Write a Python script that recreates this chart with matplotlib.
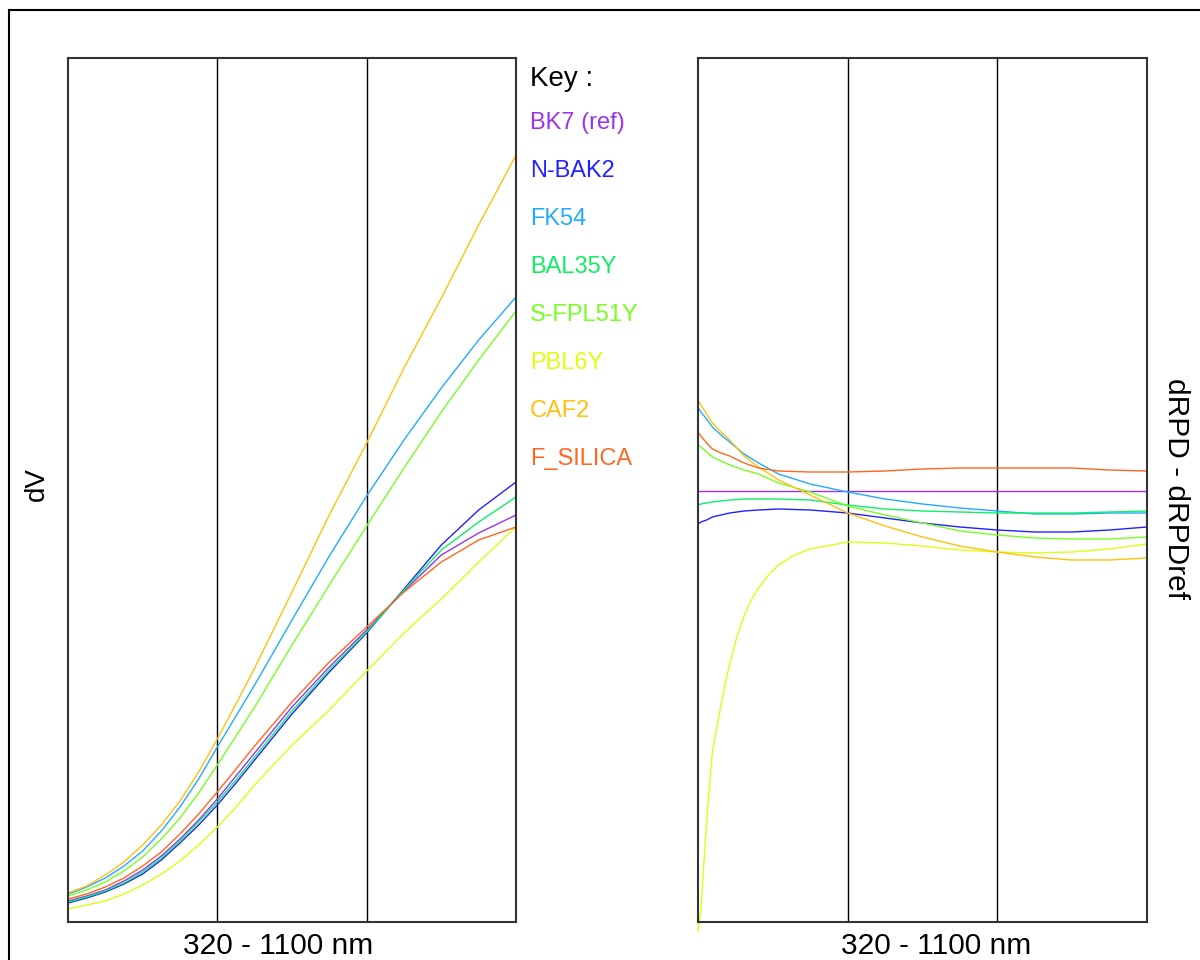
import matplotlib
matplotlib.use("Agg")
import matplotlib.pyplot as plt
from matplotlib.lines import Line2D

plt.rcParams['font.family'] = ['Liberation Sans', 'DejaVu Sans']

# ---------------- data ----------------
glasses = ["BK7 (ref)", "N-BAK2", "FK54", "BAL35Y", "S-FPL51Y", "PBL6Y", "CAF2", "F_SILICA"]
colors = ["#9933EE", "#2222FF", "#22AAFF", "#11EE66", "#77FF22", "#DDFF11", "#FFC010", "#FF6622"]

# left panel: dV versus wavelength (arbitrary units)
wl_left = [320, 352.5, 385, 417.5, 450, 482.5, 515, 547.5, 580, 612.5, 645,
           710, 775, 840, 905, 970, 1035, 1100]
dv_bk7     = [21, 26, 32, 41, 52, 66, 83, 102, 123, 146, 169, 215, 255, 292, 331, 367, 389, 407]
dv_nbak2   = [19, 24, 30, 38, 48, 62, 79, 97, 117, 139, 162, 208, 250, 289, 333, 377, 412, 440]
dv_fk54    = [28, 35, 44, 56, 71, 91, 115, 143, 175, 206, 237, 302, 366, 426, 482, 534, 582, 625]
dv_bal35y  = [20, 25, 31, 39, 50, 64, 81, 100, 120, 142, 165, 211, 252, 290, 332, 372, 400, 425]
dv_sfpl51y = [26, 32, 40, 51, 65, 83, 104, 129, 157, 186, 215, 277, 337, 396, 454, 510, 562, 611]
dv_pbl6y   = [13, 17, 21, 28, 37, 48, 61, 77, 95, 115, 137, 177, 212, 251, 289, 323, 360, 395]
dv_caf2    = [29, 36, 47, 60, 77, 97, 121, 150, 183, 218, 254, 330, 407, 479, 554, 624, 697, 767]
dv_fsilica = [23, 28, 35, 44, 56, 70, 88, 108, 130, 153, 176, 220, 260, 295, 330, 360, 382, 395]

# right panel: dRPD - dRPDref versus wavelength (arbitrary units)
wl_right = [320, 325, 335, 345, 360, 375, 400, 425, 460, 515, 580, 645, 710, 775, 840, 905, 970, 1035, 1100]
rpd_bk7     = [0] * 19
rpd_nbak2   = [-33, -31, -29, -26, -24, -22, -20, -19, -18, -19, -22, -27, -32, -36, -39, -41, -41, -39, -36]
rpd_fk54    = [84, 79, 72, 64, 56, 49, 37, 28, 17, 7, -1, -8, -13, -17, -20, -23, -23, -22, -22]
rpd_bal35y  = [-14, -13, -12, -11, -10, -9, -8, -8, -8, -9, -14, -18, -20, -21, -22, -22, -22, -21, -20]
rpd_sfpl51y = [46, 44, 39, 34, 30, 26, 21, 17, 8, -1, -15, -24, -32, -40, -44, -47, -48, -48, -46]
rpd_caf2    = [91, 86, 77, 68, 59, 51, 35, 24, 11, -4, -22, -35, -46, -55, -61, -66, -69, -69, -67]
rpd_fsilica = [59, 55, 48, 42, 38, 35, 28, 23, 20, 19, 19, 20, 22, 23, 23, 23, 23, 21, 20]

# PBL6Y rises steeply near the blue end, so it is read at more wavelengths
wl_right_pbl6y = [320, 325, 330, 335, 340, 345, 352.5, 360, 367.5, 375, 387.5, 400, 412.5, 425,
                  442.5, 460, 487.5, 515, 580, 645, 710, 775, 840, 905, 970, 1035, 1100]
rpd_pbl6y = [-440, -419, -374, -331, -295, -261, -237, -214, -192, -173, -146, -125, -109, -97,
             -84, -74, -64, -58, -51, -52, -55, -59, -61, -62, -61, -58, -53]

left_series = [dv_bk7, dv_nbak2, dv_fk54, dv_bal35y, dv_sfpl51y, dv_pbl6y, dv_caf2, dv_fsilica]
right_series = [(wl_right, rpd_bk7), (wl_right, rpd_nbak2), (wl_right, rpd_fk54),
                (wl_right, rpd_bal35y), (wl_right, rpd_sfpl51y), (wl_right_pbl6y, rpd_pbl6y),
                (wl_right, rpd_caf2), (wl_right, rpd_fsilica)]
grid_wl = [580, 840]

# ---------------- figure ----------------
W, H = 1200, 960
fig = plt.figure(figsize=(12, 9.6), dpi=100)

def fx(px):
    return px / W

def fy(py):
    return 1 - py / H

# outer frame (top and left edges visible)
fig.add_artist(Line2D([fx(9), 1.0], [fy(10), fy(10)], color="black", lw=1.5, transform=fig.transFigure))
fig.add_artist(Line2D([fx(9), fx(9)], [fy(10), 0.0], color="black", lw=1.5, transform=fig.transFigure))

axL = fig.add_axes([fx(68), fy(922), fx(516 - 68), (922 - 58) / H])
axR = fig.add_axes([fx(698), fy(922), fx(1147 - 698), (922 - 58) / H])

for ax in (axL, axR):
    ax.set_xlim(320, 1100)
    ax.set_xticks([])
    ax.set_yticks([])
    for g in grid_wl:
        ax.axvline(g, color="black", lw=1.0, zorder=1)
    for s in ax.spines.values():
        s.set_color("#333333")
        s.set_linewidth(1.5)

axL.set_ylim(0, 864)
axR.set_ylim(-431, 433)

for vals, c in zip(left_series, colors):
    axL.plot(wl_left, vals, color=c, lw=1.0, zorder=2)
for (xs, vals), c in zip(right_series, colors):
    axR.plot(xs, vals, color=c, lw=1.0, zorder=2, clip_on=False)

# key
fig.text(fx(530), fy(86), "Key :", fontsize=20, color="black", ha="left", va="baseline")
for i, (name, c) in enumerate(zip(glasses, colors)):
    fig.text(fx(530), fy(129 + 48 * i), name, fontsize=17, color=c, ha="left", va="baseline")

# axis labels
fig.text(fx(278), fy(946), "320 - 1100 nm", fontsize=21.5, ha="center", va="center")
fig.text(fx(936), fy(946), "320 - 1100 nm", fontsize=21.5, ha="center", va="center")
fig.text(fx(37), fy(484), "dV", fontsize=20, rotation=90, ha="center", va="center")
fig.text(fx(1176), fy(489), "dRPD - dRPDref", fontsize=21.5, rotation=270, ha="center", va="center")

fig.savefig("out.png", dpi=100)
